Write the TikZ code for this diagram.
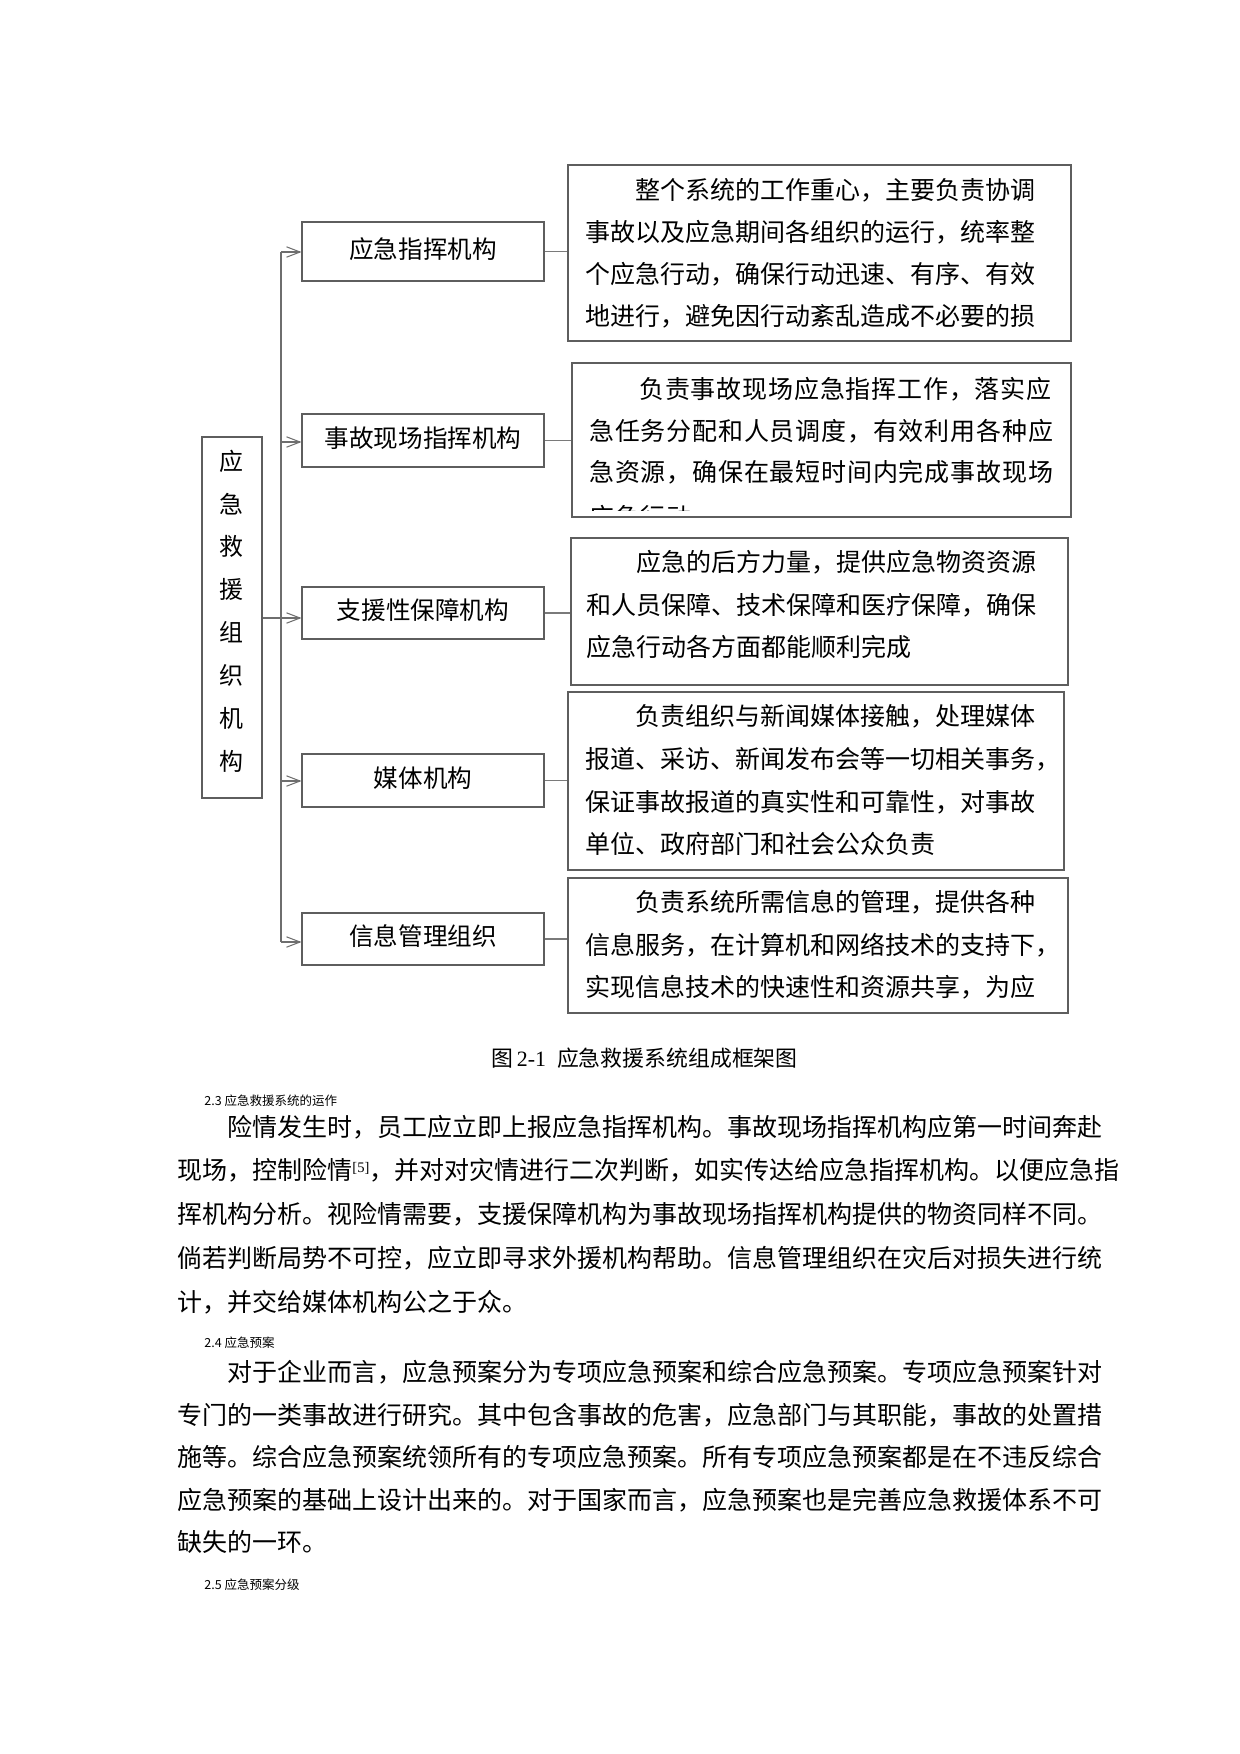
\documentclass[tikz,border=0pt]{standalone}
\usepackage{fontspec}
\setmainfont{Noto Sans CJK SC}
\newfontfamily\cjk{Noto Sans CJK SC}
\newfontfamily\cjkwide[LetterSpace=3.2]{Noto Sans CJK SC}
\newfontfamily\tms{Liberation Serif}
\usetikzlibrary{arrows.meta,fit}
\definecolor{linegray}{HTML}{6E6E6E}
\definecolor{boxgray}{HTML}{5E5E5E}
\definecolor{conngray}{HTML}{7A7A7A}
\newcommand\rfont{\cjk\fontsize{12}{14}\selectfont}
\newcommand\rwfont{\cjkwide\fontsize{12}{14}\selectfont}
\newcommand\lfont{\cjk\fontsize{11.5}{13}\selectfont}
\newcommand\mfont{\cjk\fontsize{11.8}{13}\selectfont}
\newcommand\bfontx{\cjk\fontsize{12}{14}\selectfont}
\newcommand\cfont{\cjk\fontsize{10.5}{12}\selectfont}
\newcommand\hfont{\cjk\fontsize{6}{7}\selectfont}
\tikzset{
  ln/.style={line width=0.5pt, draw=linegray},
  conn/.style={line width=0.5pt, draw=conngray},
  arr/.style={ln, -{Straight Barb[length=6.5pt,width=5pt]}},
  frame/.style={draw=boxgray, line width=0.5pt, inner sep=0pt, rectangle},
  rtxt/.style={anchor=west, inner sep=0pt, font=\rfont},
  rwtxt/.style={anchor=west, inner sep=0pt, font=\rwfont},
  btxt/.style={anchor=west, inner sep=0pt, font=\bfontx},
  htxt/.style={anchor=west, inner sep=0pt, font=\hfont},
  mtxt/.style={anchor=center, inner sep=0pt, font=\mfont},
}
\begin{document}
\begin{tikzpicture}[x=0.48pt,y=-0.48pt]
\useasboundingbox[fill=white] (0,0) rectangle (1240,1754);

% left box
\node[frame, fit={(202,437) (262,798)}] (L) {};
\foreach \c [count=\i from 0] in {应,急,救,援,组,织,机,构}{
  \node[mtxt, font=\lfont] (lc\i) at (231,{461+42.9*\i}) {\c};
}

% middle boxes
\node[frame, fit={(302,222) (544,281)}] (m1) {};
\node[frame, fit={(302,414) (544,467)}] (m2) {};
\node[frame, fit={(302,587) (544,639)}] (m3) {};
\node[frame, fit={(302,754) (544,807)}] (m4) {};
\node[frame, fit={(302,913) (544,965)}] (m5) {};
\node[mtxt] (m1t) at ([yshift=1.3pt]m1.center) {应急指挥机构};
\node[mtxt] (m2t) at ([yshift=1.3pt]m2.center) {事故现场指挥机构};
\node[mtxt] (m3t) at ([yshift=1.3pt]m3.center) {支援性保障机构};
\node[mtxt] (m4t) at ([yshift=1.3pt]m4.center) {媒体机构};
\node[mtxt] (m5t) at ([yshift=1.3pt]m5.center) {信息管理组织};

% right boxes
\node[frame, fit={(568,165) (1071,341)}] (r1) {};
\node[frame, fit={(572,363) (1071,517)}] (r2) {};
\node[frame, fit={(571,538) (1068,685)}] (r3) {};
\node[frame, fit={(568,692) (1064,870)}] (r4) {};
\node[frame, fit={(568,878) (1068,1013)}] (r5) {};

\node[rtxt] (r1a) at (635,190) {整个系统的工作重心，主要负责协调};
\node[rtxt] (r1b) at (585,232) {事故以及应急期间各组织的运行，统率整};
\node[rtxt] (r1c) at (585,274) {个应急行动，确保行动迅速、有序、有效};
\node[rtxt] (r1d) at (585,316) {地进行，避免因行动紊乱造成不必要的损};

\node[rwtxt] (r2a) at (639,389) {负责事故现场应急指挥工作，落实应};
\node[rwtxt] (r2b) at (589,431) {急任务分配和人员调度，有效利用各种应};
\node[rwtxt] (r2c) at (589,472) {急资源，确保在最短时间内完成事故现场};
\begin{scope}
  \clip (572,363) rectangle (1071,510);
  \node[rwtxt] (r2d) at (589,517) {应急行动};
\end{scope}

\node[rtxt] (r3a) at (636,562) {应急的后方力量，提供应急物资资源};
\node[rtxt] (r3b) at (586,605) {和人员保障、技术保障和医疗保障，确保};
\node[rtxt] (r3c) at (586,647) {应急行动各方面都能顺利完成};

\node[rtxt] (r4a) at (635,716) {负责组织与新闻媒体接触，处理媒体};
\node[rtxt] (r4b) at (585,759) {报道、采访、新闻发布会等一切相关事务，};
\node[rtxt] (r4c) at (585,802) {保证事故报道的真实性和可靠性，对事故};
\node[rtxt] (r4d) at (585,844) {单位、政府部门和社会公众负责};

\node[rtxt] (r5a) at (635,902) {负责系统所需信息的管理，提供各种};
\node[rtxt] (r5b) at (585,945) {信息服务，在计算机和网络技术的支持下，};
\node[rtxt] (r5c) at (585,987) {实现信息技术的快速性和资源共享，为应};

% trunk and arrows
\coordinate (j1) at (281,252);
\coordinate (j2) at (281,442);
\coordinate (j3) at (281,618);
\coordinate (j4) at (281,781);
\coordinate (j5) at (281,942);
\draw[ln] (j1) -- (j5);
\draw[arr] (j1) -- (j1 -| m1.west);
\draw[arr] (j2) -- (j2 -| m2.west);
\draw[arr] (L.east |- j3) -- (j3 -| m3.west);
\draw[arr] (j4) -- (j4 -| m4.west);
\draw[arr] (j5) -- (j5 -| m5.west);

% connectors to descriptions
\draw[conn] (m1.east) -- (m1.east -| r1.west);
\draw[conn] (m2.east) -- (m2.east -| r2.west);
\draw[conn] (m3.east) -- (m3.east -| r3.west);
\draw[conn] (m4.east) -- (m4.east -| r4.west);
\draw[conn] (m5.east) -- (m5.east -| r5.west);

% caption
\node[anchor=west, inner sep=0pt, font=\cfont] (cap) at (491,1058) {图\,{\tms 2-1}\enspace 应急救援系统组成框架图};

% section 2.3
\node[htxt] (h23) at (204,1101) {2.3 应急救援系统的运作};
\node[btxt] (p1a) at (227,1127) {险情发生时，员工应立即上报应急指挥机构。事故现场指挥机构应第一时间奔赴};
\node[btxt] (p1b) at (177,1170) {现场，控制险情{\tms\fontsize{7}{8}\selectfont\raisebox{1.0ex}{[5]}}，并对对灾情进行二次判断，如实传达给应急指挥机构。以便应急指};
\node[btxt] (p1c) at (177,1214) {挥机构分析。视险情需要，支援保障机构为事故现场指挥机构提供的物资同样不同。};
\node[btxt] (p1d) at (177,1258) {倘若判断局势不可控，应立即寻求外援机构帮助。信息管理组织在灾后对损失进行统};
\node[btxt] (p1e) at (177,1302) {计，并交给媒体机构公之于众。};

% section 2.4
\node[htxt] (h24) at (204,1343) {2.4 应急预案};
\node[btxt] (p2a) at (227,1372) {对于企业而言，应急预案分为专项应急预案和综合应急预案。专项应急预案针对};
\node[btxt] (p2b) at (177,1415) {专门的一类事故进行研究。其中包含事故的危害，应急部门与其职能，事故的处置措};
\node[btxt] (p2c) at (177,1457) {施等。综合应急预案统领所有的专项应急预案。所有专项应急预案都是在不违反综合};
\node[btxt] (p2d) at (177,1500) {应急预案的基础上设计出来的。对于国家而言，应急预案也是完善应急救援体系不可};
\node[btxt] (p2e) at (177,1542) {缺失的一环。};

% section 2.5
\node[htxt] (h25) at (204,1585) {2.5 应急预案分级};
\end{tikzpicture}
\end{document}
